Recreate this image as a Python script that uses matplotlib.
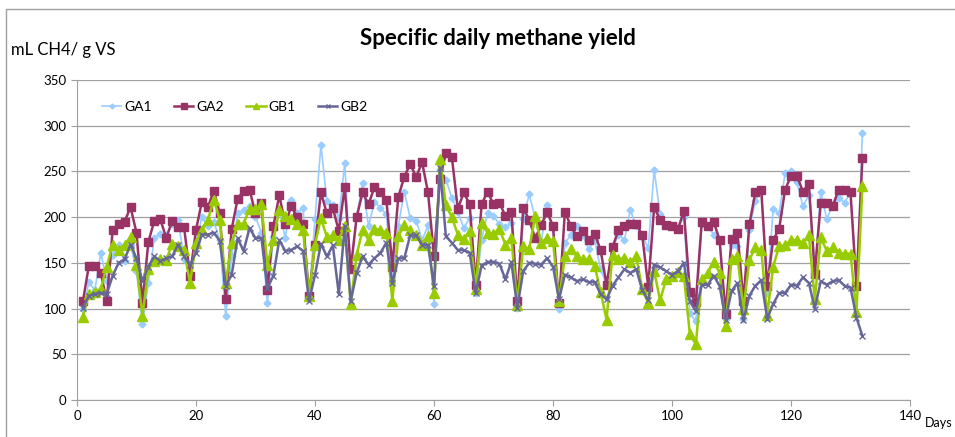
import matplotlib
matplotlib.use("Agg")
import matplotlib.pyplot as plt
from matplotlib.patches import Rectangle

plt.rcParams["font.family"] = ["Lato", "DejaVu Sans"]

days = list(range(1, 133))

ga1 = [99, 129, 120, 161, 130, 159, 170, 152, 170, 141, 83, 128, 177, 182, 180, 192, 197, 154, 139, 172,
       200, 190, 195, 175, 92, 157, 204, 208, 212, 200, 183, 106, 178, 208, 177, 219, 204, 210, 112, 198,
       279, 218, 213, 199, 259, 143, 201, 237, 190, 217, 210, 203, 128, 190, 228, 199, 196, 175, 191, 105,
       253, 241, 221, 206, 188, 199, 117, 175, 205, 201, 192, 189, 194, 101, 198, 225, 199, 172, 213, 188,
       99, 172, 180, 190, 180, 165, 175, 143, 126, 165, 181, 175, 208, 190, 180, 166, 252, 203, 190, 190,
       188, 200, 95, 86, 193, 190, 181, 175, 89, 170, 168, 89, 186, 218, 230, 117, 209, 204, 248, 251,
       238, 212, 224, 143, 228, 198, 213, 221, 216, 227, 125, 292]

ga2 = [108, 147, 147, 139, 108, 186, 193, 195, 211, 183, 106, 173, 196, 198, 177, 196, 189, 189, 136, 186,
       217, 211, 229, 204, 110, 187, 220, 229, 230, 204, 216, 120, 190, 224, 192, 212, 200, 193, 114, 170,
       227, 204, 210, 185, 233, 143, 200, 227, 214, 233, 228, 219, 146, 222, 244, 258, 244, 260, 227, 157,
       242, 270, 266, 209, 227, 214, 126, 214, 228, 214, 216, 201, 206, 108, 210, 197, 177, 191, 206, 190,
       106, 206, 190, 179, 185, 175, 182, 164, 126, 167, 186, 190, 193, 193, 180, 124, 211, 197, 191, 190,
       187, 207, 118, 107, 195, 190, 195, 175, 94, 176, 183, 108, 192, 227, 230, 125, 175, 187, 230, 245,
       245, 228, 236, 138, 216, 215, 212, 230, 230, 227, 125, 265]

gb1 = [91, 116, 118, 121, 146, 170, 164, 170, 178, 148, 92, 143, 152, 154, 153, 171, 168, 164, 128, 172,
       186, 197, 219, 197, 128, 172, 192, 193, 209, 209, 214, 148, 175, 208, 201, 198, 192, 186, 114, 170,
       199, 178, 180, 175, 190, 105, 159, 186, 175, 187, 186, 183, 108, 179, 191, 186, 180, 170, 179, 117,
       264, 213, 200, 181, 176, 185, 121, 194, 183, 182, 187, 170, 177, 104, 168, 165, 201, 172, 177, 174,
       108, 157, 165, 157, 154, 154, 147, 118, 88, 159, 154, 155, 151, 157, 121, 106, 141, 109, 132, 136,
       140, 136, 72, 61, 132, 139, 151, 139, 81, 154, 157, 99, 153, 167, 164, 93, 146, 168, 169, 175,
       175, 172, 180, 110, 178, 163, 167, 161, 160, 160, 96, 234]

gb2 = [101, 114, 116, 117, 116, 136, 150, 154, 170, 155, 130, 146, 157, 152, 155, 157, 170, 157, 148, 161,
       181, 181, 183, 174, 125, 137, 177, 163, 188, 177, 177, 122, 136, 175, 163, 164, 168, 163, 108, 137,
       171, 157, 169, 116, 190, 108, 139, 157, 148, 155, 161, 172, 128, 155, 155, 180, 180, 170, 169, 125,
       254, 179, 172, 164, 164, 161, 117, 147, 151, 151, 149, 132, 151, 101, 141, 150, 149, 148, 155, 146,
       110, 137, 134, 130, 132, 129, 129, 116, 110, 125, 134, 143, 139, 143, 120, 109, 148, 145, 141, 137,
       141, 150, 108, 97, 126, 126, 136, 125, 88, 119, 128, 87, 114, 125, 131, 89, 105, 117, 117, 126,
       125, 134, 128, 100, 130, 126, 130, 131, 125, 123, 90, 70]

series_names = ["GA1", "GA2", "GB1", "GB2"]
x_ticks = [0, 20, 40, 60, 80, 100, 120, 140]
y_ticks = [0, 50, 100, 150, 200, 250, 300, 350]

fig = plt.figure(figsize=(9.55, 4.37), dpi=100)
ax = fig.add_axes([0.0806, 0.0847, 0.8723, 0.7322])

styles = [
    dict(color="#99CCFF", marker="D", markersize=3.5, linewidth=1.2),
    dict(color="#993366", marker="s", markersize=6, linewidth=1.8),
    dict(color="#99CC00", marker="^", markersize=6.5, linewidth=1.8),
    dict(color="#666699", marker="x", markersize=5, linewidth=1.8, markeredgewidth=1.0),
]
for name, vals, st in zip(series_names, [ga1, ga2, gb1, gb2], styles):
    ax.plot(days, vals, label=name, **st)

ax.set_xlim(0, 140)
ax.set_ylim(0, 350)
ax.set_xticks(x_ticks)
ax.set_yticks(y_ticks)
ax.yaxis.grid(True, color="#A0A0A0", linewidth=0.9)
ax.set_axisbelow(True)
for side in ["top", "right"]:
    ax.spines[side].set_visible(False)
for side in ["left", "bottom"]:
    ax.spines[side].set_color("#A0A0A0")
ax.tick_params(axis="both", colors="#A0A0A0", labelcolor="black", labelsize=9.5, length=4, direction="out")

ax.legend(loc="upper left", bbox_to_anchor=(0.015, 0.975), ncol=4, frameon=False,
          fontsize=10, handlelength=1.4, columnspacing=1.6, handletextpad=0.2, markerscale=0.7)

fig.text(0.521, 0.913, "Specific daily methane yield", ha="center", va="center",
         fontsize=16, fontweight="bold")
fig.text(0.011, 0.885, "mL CH4/ g VS", ha="left", va="center", fontsize=12)
fig.text(0.968, 0.032, "Days", ha="left", va="center", fontsize=9)

fig.patches.append(Rectangle((0.006, -0.02), 1.2, 1.0, transform=fig.transFigure,
                             fill=False, edgecolor="#A0A0A0", linewidth=1.0))

fig.savefig("out.png", dpi=100)
